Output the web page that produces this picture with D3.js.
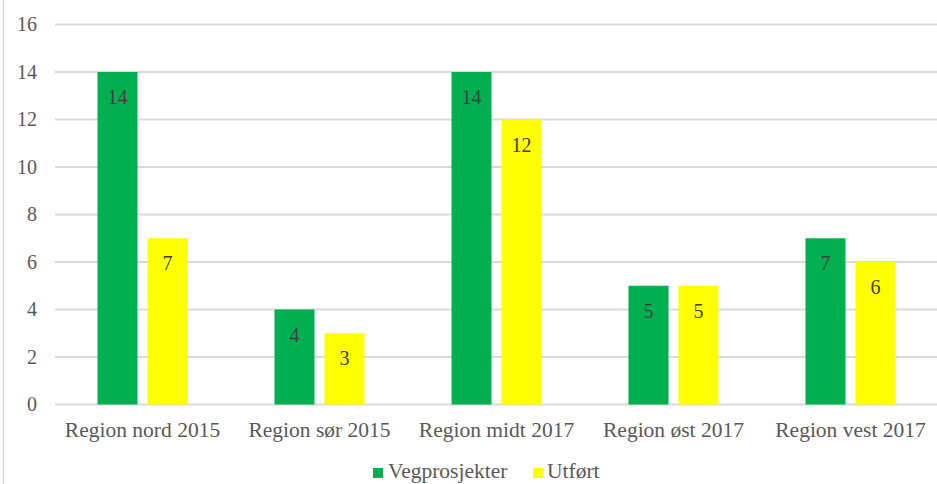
<!DOCTYPE html>
<html>
<head>
<meta charset="utf-8">
<script src="https://cdn.jsdelivr.net/npm/d3@7"></script>
<style>
  html, body { margin: 0; padding: 0; background: #fff; }
  svg { display: block; }
</style>
</head>
<body>
<svg id="chart" width="937" height="484"></svg>
<script>
const categories = ["Region nord 2015", "Region sør 2015", "Region midt 2017", "Region øst 2017", "Region vest 2017"];
const seriesNames = ["Vegprosjekter", "Utført"];
const vegprosjekter = [14, 4, 14, 5, 7];
const utfort = [7, 3, 12, 5, 6];
const yTicks = [0, 2, 4, 6, 8, 10, 12, 14, 16];
const colors = ["#00B050", "#FFFF00"];

const seriesValues = [vegprosjekter, utfort];
const FONT = "'Liberation Serif', 'DejaVu Serif', 'Times New Roman', serif";
const svg = d3.select("#chart").attr("font-family", FONT);

const x0 = d3.scaleBand().domain(categories).range([54, 939]).padding(0);
const bw = x0.bandwidth();
const x1 = d3.scaleBand().domain(seriesNames).range([bw / 2 - 45, bw / 2 + 45]).paddingInner(0.2).paddingOuter(0);
const y = d3.scaleLinear().domain([0, 16]).range([404.5, 24.5]);
const color = d3.scaleOrdinal().domain(seriesNames).range(colors);

// left frame line
svg.append("line")
  .attr("x1", 3.5).attr("x2", 3.5).attr("y1", 0).attr("y2", 484)
  .attr("stroke", "#d9d9d9").attr("stroke-width", 1.5);

// gridlines
svg.append("g").selectAll("line").data(yTicks).join("line")
  .attr("x1", 55).attr("x2", 937)
  .attr("y1", d => y(d)).attr("y2", d => y(d))
  .attr("stroke", "#d9d9d9").attr("stroke-width", 2);

// y tick labels
svg.append("g").selectAll("text").data(yTicks).join("text")
  .attr("x", 37).attr("y", d => y(d)).attr("dy", "0.33em")
  .attr("text-anchor", "end")
  .attr("font-family", FONT)
  .attr("font-size", 20).attr("fill", "#595959")
  .text(d => d);

// bars
const data = [];
categories.forEach((c, i) => {
  seriesNames.forEach((s, j) => data.push({ cat: c, series: s, value: seriesValues[j][i] }));
});

const groups = svg.append("g");
groups.selectAll("rect").data(data).join("rect")
  .attr("x", d => x0(d.cat) + x1(d.series))
  .attr("y", d => y(d.value))
  .attr("width", x1.bandwidth())
  .attr("height", d => y(0) - y(d.value))
  .attr("fill", d => color(d.series));

groups.selectAll("text").data(data).join("text")
  .attr("x", d => x0(d.cat) + x1(d.series) + x1.bandwidth() / 2)
  .attr("y", d => y(d.value) + 32)
  .attr("text-anchor", "middle")
  .attr("font-family", FONT)
  .attr("font-size", 20).attr("fill", "#404040")
  .text(d => d.value);

// category labels
svg.append("g").selectAll("text").data(categories).join("text")
  .attr("x", d => x0(d) + bw / 2)
  .attr("y", 437)
  .attr("text-anchor", "middle")
  .attr("font-family", FONT)
  .attr("font-size", 21.5).attr("fill", "#595959")
  .text(d => d);

// legend
const legendItems = [
  { name: seriesNames[0], sx: 373, tx: 388 },
  { name: seriesNames[1], sx: 533, tx: 547 }
];
const lg = svg.append("g");
lg.selectAll("rect").data(legendItems).join("rect")
  .attr("x", d => d.sx).attr("y", 468).attr("width", 10).attr("height", 10)
  .attr("fill", d => color(d.name));
lg.selectAll("text").data(legendItems).join("text")
  .attr("x", d => d.tx).attr("y", 478)
  .attr("font-family", FONT)
  .attr("font-size", 21.5).attr("fill", "#595959")
  .text(d => d.name);
</script>
</body>
</html>
